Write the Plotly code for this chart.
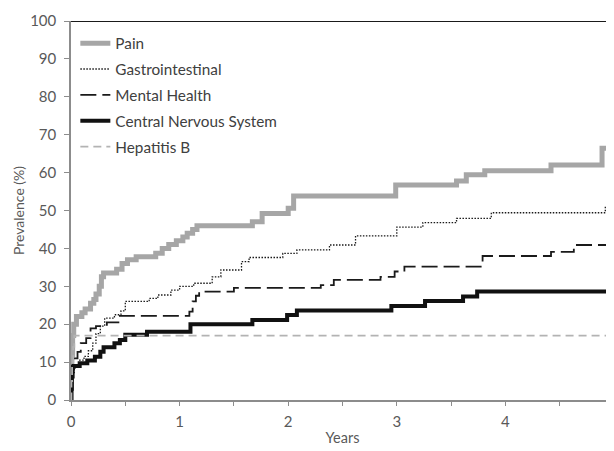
import plotly.graph_objects as go

FONT = "Lato"

# ---- data (years, prevalence %) ----
pain_t = [0, 0.003, 0.008, 0.015, 0.025, 0.05, 0.1, 0.13, 0.18, 0.21,
          0.23, 0.26, 0.28, 0.3, 0.42, 0.47, 0.52, 0.6, 0.78, 0.84,
          0.9, 0.97, 1.03, 1.07, 1.12, 1.16, 1.67, 1.76, 2.0, 2.05,
          2.99, 3.55, 3.64, 3.81, 4.42, 4.89, 4.95, 5.0]
pain_v = [0, 8, 12, 17, 20, 22, 23, 24, 25.5, 26.5,
          28, 30, 32.5, 33.5, 34.5, 36, 37, 37.8, 38.7, 40,
          41, 42, 43, 44, 45, 46, 47, 49.2, 50.6, 53.8,
          56.7, 57.8, 59.4, 60.5, 62, 66.4, 68.2, 68.2]

gi_t = [0, 0.005, 0.015, 0.03, 0.08, 0.12, 0.16, 0.2, 0.23, 0.27,
        0.31, 0.4, 0.46, 0.5, 0.72, 0.8, 0.92, 1.0, 1.13, 1.3,
        1.38, 1.57, 1.64, 1.95, 2.08, 2.38, 2.62, 3.0, 3.24, 3.55,
        3.87, 4.92, 4.96, 5.0]
gi_v = [0, 4, 7, 9, 10.5, 11.5, 13, 15, 17.5, 19.5,
        21.6, 22.5, 23.5, 26, 26.8, 27.7, 29, 30, 30.8, 32.5,
        34.3, 36.5, 37.6, 38.7, 39.6, 40.9, 43.3, 45.6, 46.8, 47.9,
        49.4, 51, 53, 53]

mh_t = [0, 0.005, 0.012, 0.025, 0.06, 0.09, 0.14, 0.18, 0.23, 0.33,
        0.45, 1.09, 1.12, 1.15, 1.18, 1.5, 2.3, 2.42, 2.85, 2.98,
        3.07, 3.79, 4.42, 4.63, 5.0]
mh_v = [0, 4, 8, 11, 12.7, 15, 16.3, 18.9, 19.5, 20.5,
        22.2, 23.3, 26, 27.5, 28.6, 29.6, 30.3, 31.7, 32.5, 33.9,
        35.2, 38, 39.1, 40.9, 40.9]

cns_t = [0, 0.003, 0.008, 0.015, 0.025, 0.08, 0.15, 0.22, 0.27, 0.3,
         0.4, 0.45, 0.5, 0.7, 1.1, 1.67, 1.99, 2.08, 2.95, 3.26,
         3.61, 3.74, 5.0]
cns_v = [0, 3, 6.2, 8.8, 9, 9.7, 10.4, 11.4, 12.7, 13.9,
         15, 15.8, 17.2, 18, 20, 21.1, 22.4, 23.6, 24.8, 26.1,
         27.3, 28.6, 28.6]

hep_t = [0, 0.004, 0.01, 0.02, 0.03, 5.0]
hep_v = [0, 5, 10, 14, 17, 17]

series = [
    ("Pain", pain_t, pain_v, dict(color="#a6a6a6", width=5, dash="solid")),
    ("Gastrointestinal", gi_t, gi_v, dict(color="#1a1a1a", width=1.3, dash="1.5px,1.5px")),
    ("Mental Health", mh_t, mh_v, dict(color="#1a1a1a", width=1.8, dash="16px,6px")),
    ("Central Nervous System", cns_t, cns_v, dict(color="#111111", width=4, dash="solid")),
    ("Hepatitis B", hep_t, hep_v, dict(color="#b3b3b3", width=1.8, dash="8px,5px")),
]

fig = go.Figure()
for i, (name, t, v, line) in enumerate(series):
    fig.add_trace(go.Scatter(x=t, y=v, mode="lines", name=name, line=line,
                             line_shape="hv", legendgroup=f"g{i}"))

axis_col = "#8c8c8c"
# page body has an 8px margin, so the figure is sized to the visible area
fig.update_layout(
    width=606, height=443,
    margin=dict(l=63, r=0, t=13, b=51),
    paper_bgcolor="white", plot_bgcolor="white",
    font=dict(family=FONT, size=15, color="#595959"),
    showlegend=True,
    legend=dict(x=0.008, y=0.985, xanchor="left", yanchor="top",
                bgcolor="rgba(0,0,0,0)", traceorder="grouped", tracegroupgap=3,
                font=dict(family=FONT, size=15.3, color="#404040")),
    xaxis=dict(range=[0, 5], dtick=1, tick0=0, showgrid=False, zeroline=False,
               automargin=False, ticklabeloverflow="allow",
               showline=True, linecolor=axis_col, linewidth=1.5,
               ticks="outside", ticklen=4, tickcolor=axis_col,
               ticklabelstandoff=3,
               minor=dict(dtick=0.5, ticks="outside", ticklen=4, tickcolor=axis_col),
               title=dict(text="Years", standoff=4, font=dict(size=14.5, color="#595959"))),
    yaxis=dict(range=[0, 100], dtick=10, showgrid=False, zeroline=False,
               automargin=False,
               showline=True, linecolor=axis_col, linewidth=1.5,
               ticks="outside", ticklen=5, tickcolor=axis_col,
               ticklabelstandoff=5,
               title=dict(text="Prevalence (%)", standoff=2, font=dict(size=14, color="#595959"))),
    shapes=[dict(type="line", xref="paper", yref="y", x0=0, x1=1, y0=100, y1=100,
                 line=dict(color="#1a1a1a", width=2))],
)

fig.write_html("out.html")
